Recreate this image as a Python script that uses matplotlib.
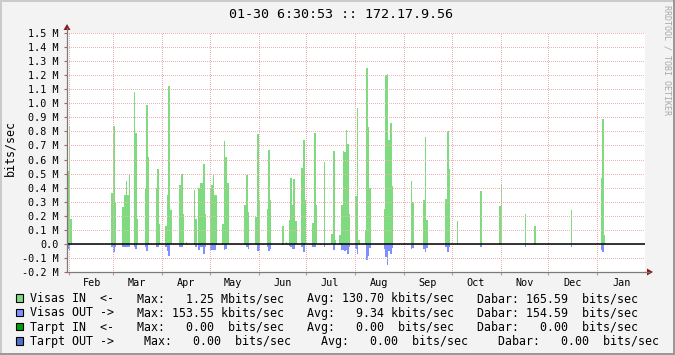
import datetime as dt
import numpy as np
import matplotlib
matplotlib.use("Agg")
import matplotlib.pyplot as plt
from matplotlib.lines import Line2D
from matplotlib.patches import Polygon, Rectangle

# ---------------- data (values in M bits/sec) ----------------
start_date = dt.date(2013, 1, 30)
cluster_start_day = [1, 29, 36, 43, 50, 57, 63, 72, 76, 81, 84, 91, 99, 113, 120, 127,
                     137, 139, 141, 149, 156, 161, 168, 173, 183, 189, 201, 218, 226,
                     240, 247, 262, 274, 290, 296, 319, 338]
in_values = [
    [0.52, 0.84, 0.18], [0.36, 0.84, 0.29], [0.26, 0.35, 0.45, 0.35, 0.49],
    [1.08, 0.79, 0.18], [0.39, 0.99, 0.62], [0.40, 0.53, 0.14],
    [0.13, 0.35, 1.12, 0.24], [0.42, 0.50, 0.21], [0.01], [0.38, 0.18],
    [0.40, 0.43, 0.43, 0.57, 0.21], [0.39, 0.42, 0.49, 0.35, 0.35],
    [0.14, 0.73, 0.62, 0.43], [0.28, 0.49, 0.23], [0.19, 0.78, 0.31],
    [0.25, 0.67, 0.31], [0.13], [0.01], [0.17, 0.47, 0.28, 0.46, 0.16],
    [0.54, 0.74, 0.31], [0.15, 0.79, 0.28], [0.0, 0.0, 0.58], [0.07, 0.66, 0.03],
    [0.06, 0.28, 0.66, 0.65, 0.81, 0.71, 0.21], [0.34, 0.97, 0.03],
    [0.10, 1.25, 0.83, 0.40], [0.25, 1.20, 1.21, 0.74, 0.86, 0.41],
    [0.45, 0.30], [0.31, 0.76, 0.17], [0.32, 0.80, 0.53], [0.16], [0.375],
    [0.27, 0.42], [0.21], [0.13], [0.24], [0.47, 0.89, 0.06],
]
out_values = [
    [0.035, 0.054, 0.0], [0.02, 0.06, 0.02], [0.02, 0.02, 0.025, 0.025, 0.02],
    [0.025, 0.035, 0.01], [0.02, 0.05, 0.01], [0.02, 0.025, 0.0],
    [0.025, 0.05, 0.083, 0.0], [0.02, 0.025, 0.0], [0.0], [0.01, 0.02],
    [0.045, 0.02, 0.025, 0.07, 0.02], [0.04, 0.04, 0.04, 0.04, 0.01],
    [0.01, 0.045, 0.035, 0.0], [0.01, 0.025, 0.035], [0.01, 0.05, 0.05],
    [0.025, 0.054, 0.035], [0.01], [0.0], [0.015, 0.02, 0.035, 0.035, 0.0],
    [0.025, 0.06, 0.0], [0.02, 0.025, 0.0], [0.01, 0.0, 0.025], [0.0, 0.045, 0.0],
    [0.01, 0.04, 0.04, 0.054, 0.047, 0.075, 0.02], [0.035, 0.075, 0.0],
    [0.01, 0.113, 0.083, 0.03], [0.035, 0.09, 0.15, 0.05, 0.075, 0.03],
    [0.035, 0.03], [0.035, 0.057, 0.03], [0.02, 0.057, 0.02], [0.0], [0.025],
    [0.01, 0.01], [0.02], [0.01], [0.02], [0.045, 0.06, 0.0],
]
y_ticks = [round(v, 1) for v in np.arange(-0.2, 1.51, 0.1)]
title = "01-30 6:30:53 :: 172.17.9.56"
legend_labels = ["Visas IN  <-", "Visas OUT ->", "Tarpt IN  <-", "Tarpt OUT ->"]
legend_max = ["Max:   1.25 Mbits/sec", "Max: 153.55 kbits/sec",
              "Max:   0.00  bits/sec", "Max:   0.00  bits/sec"]
legend_avg = ["Avg: 130.70 kbits/sec", "Avg:   9.34 kbits/sec",
              "Avg:   0.00  bits/sec", "Avg:   0.00  bits/sec"]
legend_cur = ["Dabar: 165.59  bits/sec", "Dabar: 154.59  bits/sec",
              "Dabar:   0.00  bits/sec", "Dabar:   0.00  bits/sec"]
legend_colors = ["#7FDB7F", "#7F8FFF", "#00A000", "#4F6FC8"]

# ---------------- layout helpers ----------------
W, H = 675, 355
BG = "#F3F3F3"
MONO = "DejaVu Sans Mono"
GREEN, BLUE = legend_colors[0], legend_colors[1]
GRID = "#EBB3B3"
AX_COL = "#7A7A7A"
ARROW = "#8B1A1A"
LEG_FS = 8.35


def fx(x):
    return x / W


def fy(y):
    return 1 - y / H


fig = plt.figure(figsize=(W / 100, H / 100), dpi=100, facecolor=BG)
L, R, T, B = 67, 645, 33, 272
ax = fig.add_axes([fx(L), fy(B), (R - L) / W, (B - T) / H])
ax.set_facecolor("white")

# months
month_starts, month_names, label_pos = [], [], []
end_date = start_date + dt.timedelta(days=366)
m_date = dt.date(start_date.year, start_date.month, 1)
while m_date < end_date:
    nxt = dt.date(m_date.year + (m_date.month // 12), m_date.month % 12 + 1, 1)
    off = (m_date - start_date).days
    if off > 0:
        month_starts.append(off)
        month_names.append(m_date.strftime("%b"))
        label_pos.append(off + 15)
    m_date = nxt

# bars (each cluster as one step area, one day per value)
for s, iv, ov in zip(cluster_start_day, in_values, out_values):
    edges = s + np.arange(len(iv) + 1)
    iv_s = np.append(iv, iv[-1])
    ov_s = -np.append(ov, ov[-1])
    ax.fill_between(edges, 0, iv_s, step="post", color=GREEN, linewidth=0,
                    antialiased=False, zorder=1)
    ax.fill_between(edges, 0, ov_s, step="post", color=BLUE, linewidth=0,
                    antialiased=False, zorder=1)

ax.set_xlim(1, 366)
ax.set_ylim(-0.2, 1.5)
ax.axhline(0, color="black", linewidth=1.1, zorder=3)

# grid (dotted)
for v in y_ticks:
    ax.axhline(v, color=GRID, linewidth=0.72, linestyle=(0, (1, 1.4)),
               antialiased=False, zorder=2)
for m in month_starts:
    ax.axvline(m, color=GRID, linewidth=0.72, linestyle=(0, (1, 1.4)),
               antialiased=False, zorder=2)

ax.set_yticks(y_ticks)
ax.set_yticklabels(["0.0" if v == 0 else f"{v:.1f} M" for v in y_ticks],
                   fontsize=7.3, family=MONO)
ax.tick_params(axis="y", length=2.5, width=0.8, color="#B06060", pad=3.5)
ax.set_xticks(month_starts)
ax.set_xticklabels([])
ax.tick_params(axis="x", which="major", length=2, width=0.8, color="#D09090")
ax.set_xticks(label_pos, minor=True)
ax.set_xticklabels(month_names, minor=True, fontsize=7.3, family=MONO)
ax.tick_params(axis="x", which="minor", length=0, pad=4)

for sp in ["top", "right"]:
    ax.spines[sp].set_visible(False)
for sp in ["left", "bottom"]:
    ax.spines[sp].set_color(AX_COL)
    ax.spines[sp].set_linewidth(0.9)
    ax.spines[sp].set_zorder(4)

# axis extensions and arrows
fig.add_artist(Line2D([fx(L), fx(L)], [fy(T), fy(28)], color=AX_COL, lw=0.9))
fig.add_artist(Line2D([fx(R), fx(649)], [fy(B), fy(B)], color=AX_COL, lw=0.9))
fig.add_artist(Polygon([(fx(L - 3.5), fy(30)), (fx(L + 3.5), fy(30)), (fx(L), fy(24))],
                       closed=True, color=ARROW, lw=0))
fig.add_artist(Polygon([(fx(647), fy(B - 3.5)), (fx(647), fy(B + 3.5)), (fx(653), fy(B))],
                       closed=True, color=ARROW, lw=0))

# texts
fig.text(fx(341), fy(18.3), title, ha="center", va="baseline", fontsize=9.6,
         family=MONO, color="black")
fig.text(fx(10), fy(148), "bits/sec", rotation=90, ha="center", va="center",
         fontsize=LEG_FS, family=MONO, color="black")
fig.text(fx(667), fy(60), "RRDTOOL / TOBI OETIKER", rotation=270, ha="center",
         va="center", fontsize=6.0, family=MONO, color="#A8A8A8")

baselines = [302.3, 316.5, 330.7, 345.0]
x_max = [137.3, 137.3, 137.3, 144.7]
x_avg = [307.3, 307.3, 307.3, 322.0]
x_cur = [477.3, 477.3, 477.3, 498.3]
for i in range(4):
    yb = baselines[i]
    fig.add_artist(Rectangle((fx(15.5), fy(yb - 0.5)), 7.5 / W, 7.5 / H,
                             facecolor=legend_colors[i], edgecolor="black", lw=0.8))
    kw = dict(va="baseline", ha="left", fontsize=LEG_FS, family=MONO, color="black")
    fig.text(fx(30), fy(yb), legend_labels[i], **kw)
    fig.text(fx(x_max[i] - 0.7), fy(yb), legend_max[i], **kw)
    fig.text(fx(x_avg[i] - 0.7), fy(yb), legend_avg[i], **kw)
    fig.text(fx(x_cur[i] - 0.7), fy(yb), legend_cur[i], **kw)

# frame shading
fig.add_artist(Rectangle((0, fy(2)), 1, 2 / H, color="#CBCBCB", lw=0))
fig.add_artist(Rectangle((0, 0), 2 / W, 1, color="#CBCBCB", lw=0))
fig.add_artist(Rectangle((fx(673), 0), 2 / W, 1, color="#999999", lw=0))
fig.add_artist(Rectangle((0, 0), 1, 2 / H, color="#999999", lw=0))

fig.savefig("out.png", dpi=100, facecolor=BG)
